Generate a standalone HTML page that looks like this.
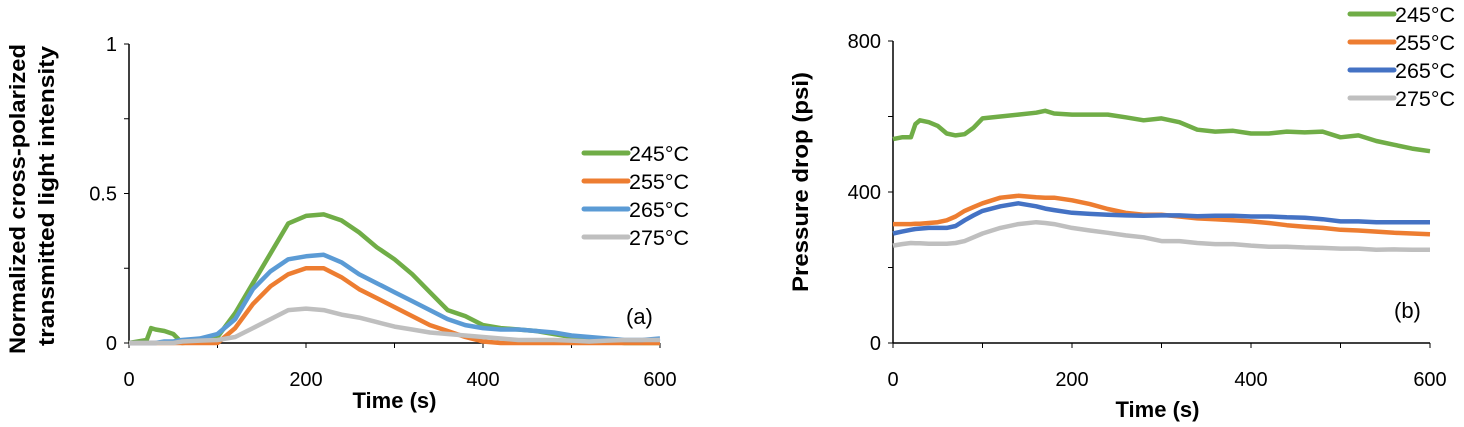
<!DOCTYPE html>
<html><head><meta charset="utf-8">
<style>
body{margin:0;background:#fff;width:1464px;height:422px;overflow:hidden;font-family:"Liberation Sans",sans-serif}
svg text{font-family:"Liberation Sans",sans-serif}
</style></head>
<body>
<svg id="fig" width="1464" height="422" viewBox="0 0 1464 422"></svg>
<script>
const tA = [0,20,25,30,40,50,60,80,100,120,140,160,180,200,220,240,260,280,300,320,340,360,380,400,420,440,460,480,500,520,540,560,580,600];
const a245 = [0,0.01,0.05,0.045,0.04,0.03,0,0.005,0.02,0.1,0.2,0.3,0.4,0.425,0.43,0.41,0.37,0.32,0.28,0.23,0.17,0.11,0.09,0.06,0.05,0.045,0.04,0.03,0.02,0.01,0.005,0,0,0];
const a255 = [0,0,0,0,0,0,0,0,0,0.05,0.13,0.19,0.23,0.25,0.25,0.22,0.18,0.15,0.12,0.09,0.06,0.04,0.02,0.005,0,0,0,0,0,0,0,0,0,0];
const a265 = [0,0,0,0,0.005,0.005,0.01,0.015,0.03,0.08,0.18,0.24,0.28,0.29,0.295,0.27,0.23,0.2,0.17,0.14,0.11,0.08,0.06,0.05,0.045,0.045,0.04,0.035,0.025,0.02,0.015,0.01,0.01,0.015];
const a275 = [0,0,0,0,0,0,0.005,0.008,0.01,0.02,0.05,0.08,0.11,0.115,0.11,0.095,0.085,0.07,0.055,0.045,0.035,0.03,0.025,0.02,0.015,0.01,0.01,0.01,0.008,0.005,0.008,0.01,0.01,0.01];
const tB = [0,10,20,25,30,40,50,60,70,80,90,100,120,140,160,170,180,200,220,240,260,280,300,320,340,360,380,400,420,440,460,480,500,520,540,560,580,600];
const b245 = [540,545,545,580,590,585,575,555,550,553,570,595,600,605,610,615,608,605,605,605,598,590,595,585,565,560,562,555,555,560,558,560,545,550,535,525,515,508];
const b255 = [315,315,315,316,316,318,320,325,335,350,360,370,385,390,386,385,385,378,368,355,345,340,340,335,330,328,325,322,318,312,308,305,300,298,295,292,290,288];
const b265 = [290,295,300,302,303,305,305,305,310,325,338,350,362,370,362,356,352,345,342,340,338,337,338,338,336,337,337,335,335,333,332,328,322,322,320,320,320,320];
const b275 = [258,262,265,264,264,263,263,263,265,270,280,290,305,315,320,318,315,305,298,292,285,280,270,270,265,262,262,258,255,255,253,252,250,250,247,248,247,247];
const xTicks = [0,200,400,600];
const yTicksA = [0,0.5,1];
const yTicksB = [0,400,800];
const labels = ["245°C","255°C","265°C","275°C"];
const colorsA = ["#70ad47","#ed7d31","#5b9bd5","#bfbfbf"];
const colorsB = ["#70ad47","#ed7d31","#4472c4","#bfbfbf"];

const NS="http://www.w3.org/2000/svg";
const svg=document.getElementById('fig');
function mk(tag,attrs,parent){const e=document.createElementNS(NS,tag);for(const k in attrs)e.setAttribute(k,attrs[k]);(parent||svg).appendChild(e);return e;}

function panel(p){
  const g=mk('g',{});
  
  
  const sx=v=>p.x0+(v-0)/600*(p.x1-p.x0);
  const sy=v=>p.y0-(v/p.ymax)*(p.y0-p.y1);
  const ya=mk('line',{x1:p.x0,y1:p.y1,x2:p.x0,y2:p.y0,stroke:'#000','stroke-width':1.5},g);
  
  const xa=mk('line',{x1:p.x0,y1:p.y0,x2:p.x1,y2:p.y0,stroke:'#000','stroke-width':1.5},g);
  
  for(let v=0;v<=p.ymax+1e-9;v+=p.ystep){mk('line',{x1:p.x0-5,y1:sy(v),x2:p.x0,y2:sy(v),stroke:'#000','stroke-width':1},g);}
  for(let v=0;v<=600;v+=100){mk('line',{x1:sx(v),y1:p.y0,x2:sx(v),y2:p.y0+5,stroke:'#000','stroke-width':1},g);}
  p.yt.forEach(v=>{const t=mk('text',{x:p.x0-12,y:sy(v)+7,'text-anchor':'end','font-size':20,fill:'#000'},g);t.textContent=v;
    });
  xTicks.forEach(v=>{const t=mk('text',{x:sx(v),y:p.y0+43,'text-anchor':'middle','font-size':20,fill:'#000'},g);t.textContent=v;
    });
  const xt=mk('text',{x:(p.x0+p.x1)/2+(p.xtOff||0),y:p.y0+p.xtDy,'text-anchor':'middle','font-size':22,'font-weight':'bold',fill:'#000'},g);
  xt.textContent='Time (s)';
  p.series.forEach((s,i)=>{
    const d=s.map((v,j)=>(j?'L':'M')+sx(p.t[j]).toFixed(1)+','+sy(v).toFixed(1)).join('');
    const path=mk('path',{d:d,fill:'none',stroke:p.colors[i],'stroke-width':4.5,'stroke-linejoin':'round'},g);
    
    
  });
  labels.forEach((l,i)=>{
    const y=p.ly+i*p.lstep;
    const ln=mk('line',{x1:p.lx,y1:y,x2:p.lx+44,y2:y,stroke:p.colors[i],'stroke-width':5,'stroke-linecap':'round'},g);
    
    const t=mk('text',{x:p.lx+45,y:y+8,'font-size':21,fill:'#000',textLength:60,lengthAdjust:'spacingAndGlyphs'},g);t.textContent=l;
    
  });
  const pl=mk('text',{x:p.plx,y:p.ply,'font-size':22,fill:'#000'},g);pl.textContent=p.plabel;
  
}

panel({name:'chart-a',x0:129,x1:660,y0:343,y1:44,ymax:1,ystep:0.25,yt:yTicksA,t:tA,series:[a245,a255,a265,a275],colors:colorsA,
  lx:584,ly:153,lstep:28,plabel:'(a)',plx:626,ply:324,xtDy:65});
panel({name:'chart-b',x0:893,x1:1430,y0:343,y1:41,ymax:800,ystep:200,yt:yTicksB,t:tB,series:[b245,b255,b265,b275],colors:colorsB,
  lx:1350,ly:14,lstep:28,plabel:'(b)',plx:1394,ply:318,xtDy:74,xtOff:-4});

const yl1=mk('text',{transform:'translate(25,199) rotate(-90)','text-anchor':'middle','font-size':22,'font-weight':'bold',fill:'#000',textLength:310,lengthAdjust:'spacingAndGlyphs'});
yl1.textContent='Normalized cross-polarized';
const yl2=mk('text',{transform:'translate(54,196) rotate(-90)','text-anchor':'middle','font-size':22,'font-weight':'bold',fill:'#000',textLength:300,lengthAdjust:'spacingAndGlyphs'});
yl2.textContent='transmitted light intensity';
const yl3=mk('text',{transform:'translate(808,182) rotate(-90)','text-anchor':'middle','font-size':22,'font-weight':'bold',fill:'#000',textLength:220,lengthAdjust:'spacingAndGlyphs'});
yl3.textContent='Pressure drop (psi)';
</script>
</body></html>
